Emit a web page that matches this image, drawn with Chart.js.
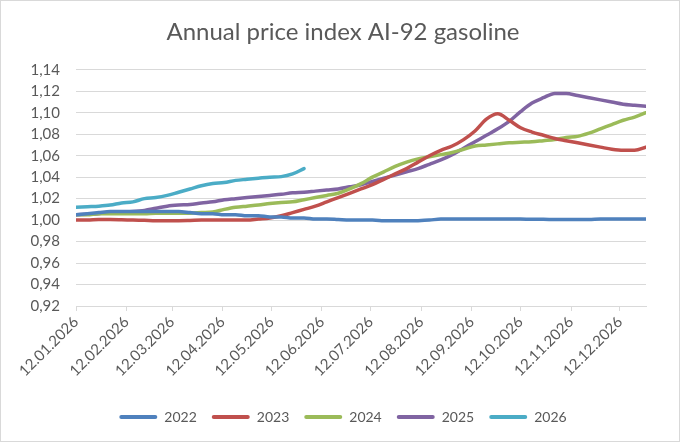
<!DOCTYPE html>
<html>
<head>
<meta charset="utf-8">
<script src="https://cdn.jsdelivr.net/npm/chart.js@4/dist/chart.umd.min.js"></script>
<style>
  html, body { margin: 0; padding: 0; background: #fff; }
  #wrap { width: 680px; height: 442px; box-sizing: border-box; border: 1px solid #d9d9d9; }
</style>
</head>
<body>
<div id="wrap"><canvas id="chart" width="678" height="440"></canvas></div>
<script>
// days since 12.01.2026, one point per week
const days = [0, 7, 14, 21, 28, 35, 42, 49, 56, 63, 70, 77, 84, 91, 98, 105, 112, 119, 126, 133,
  140, 147, 154, 161, 168, 175, 182, 189, 196, 203, 210, 217, 224, 231, 238, 245, 252, 259, 266, 273,
  280, 287, 294, 301, 308, 315, 322, 329, 336, 343, 350];

const tickDays = [0, 31, 59, 90, 120, 151, 181, 212, 243, 273, 304, 334];
const tickLabels = ['12.01.2026', '12.02.2026', '12.03.2026', '12.04.2026', '12.05.2026', '12.06.2026',
  '12.07.2026', '12.08.2026', '12.09.2026', '12.10.2026', '12.11.2026', '12.12.2026'];

const years = ['2022', '2023', '2024', '2025', '2026'];
const colors = ['#4f81bd', '#c0504d', '#9bbb59', '#8064a2', '#4bacc6'];

const y2022 = [1.005, 1.006, 1.007, 1.008, 1.008, 1.008, 1.008, 1.008, 1.008, 1.008, 1.007, 1.006, 1.006,
  1.005, 1.005, 1.004, 1.004, 1.003, 1.003, 1.002, 1.002, 1.001, 1.001, 1.0005, 1.000, 1.000, 1.000,
  0.9995, 0.9993, 0.9993, 0.9995, 1.000, 1.001, 1.001, 1.001, 1.001, 1.001, 1.001, 1.001, 1.001,
  1.0008, 1.0008, 1.0005, 1.0005, 1.0005, 1.0005, 1.001, 1.001, 1.001, 1.001, 1.001];
const y2023 = [1.000, 1.000, 1.0005, 1.0005, 1.0003, 1.000, 0.9998, 0.9995, 0.9995, 0.9995, 0.9997, 1.000,
  1.000, 1.000, 1.000, 1.000, 1.001, 1.002, 1.004, 1.007, 1.010, 1.013, 1.017, 1.021, 1.025, 1.029,
  1.033, 1.038, 1.043, 1.048, 1.054, 1.060, 1.065, 1.069, 1.075, 1.083, 1.094, 1.099, 1.093, 1.086,
  1.082, 1.079, 1.076, 1.074, 1.072, 1.070, 1.068, 1.066, 1.065, 1.065, 1.068];
const y2024 = [1.005, 1.005, 1.006, 1.006, 1.006, 1.006, 1.006, 1.0065, 1.0065, 1.0065, 1.0065, 1.007,
  1.0075, 1.010, 1.012, 1.013, 1.014, 1.0155, 1.0165, 1.017, 1.019, 1.021, 1.023, 1.025, 1.029, 1.034,
  1.040, 1.045, 1.050, 1.054, 1.057, 1.059, 1.061, 1.063, 1.066, 1.069, 1.070, 1.071, 1.072, 1.0725,
  1.073, 1.074, 1.075, 1.077, 1.078, 1.081, 1.085, 1.089, 1.093, 1.096, 1.100];
const y2025 = [1.005, 1.0055, 1.006, 1.007, 1.0075, 1.008, 1.009, 1.011, 1.013, 1.014, 1.0145, 1.016,
  1.017, 1.019, 1.020, 1.021, 1.022, 1.023, 1.024, 1.0255, 1.026, 1.027, 1.028, 1.029, 1.031, 1.033,
  1.036, 1.039, 1.042, 1.045, 1.048, 1.052, 1.056, 1.061, 1.067, 1.073, 1.079, 1.085, 1.092, 1.101,
  1.109, 1.114, 1.118, 1.118, 1.116, 1.114, 1.112, 1.110, 1.108, 1.107, 1.106];
const y2026 = [1.012, 1.0125, 1.013, 1.014, 1.016, 1.017, 1.020, 1.021, 1.023, 1.026, 1.029, 1.032,
  1.034, 1.035, 1.037, 1.038, 1.039, 1.040, 1.0405, 1.043, 1.048];

const series = [y2022, y2023, y2024, y2025, y2026];
const textColor = '#595959';
const gridColor = '#d9d9d9';
const font = 'Lato, "Open Sans", sans-serif';

const datasets = series.map((vals, i) => ({
  label: years[i],
  data: vals.map((v, j) => ({ x: days[j], y: v })),
  borderColor: colors[i],
  backgroundColor: colors[i],
  borderWidth: 3.5,
  pointRadius: 0,
  cubicInterpolationMode: 'monotone',
  borderCapStyle: 'round',
  borderJoinStyle: 'round'
}));

new Chart(document.getElementById('chart'), {
  type: 'line',
  data: { datasets: datasets },
  options: {
    responsive: false,
    animation: false,
    layout: { padding: { left: 6, right: 0, top: 0, bottom: 7 } },
    plugins: {
      title: {
        display: true,
        text: 'Annual price index AI-92 gasoline',
        color: textColor,
        font: { family: font, size: 24, weight: 'normal' },
        padding: { top: 17, bottom: 23 }
      },
      legend: {
        position: 'bottom',
        labels: {
          color: textColor,
          font: { family: font, size: 14 },
          boxWidth: 38,
          boxHeight: 4,
          padding: 15,
          generateLabels: chart => Chart.defaults.plugins.legend.labels.generateLabels(chart)
            .map(item => Object.assign(item, { lineWidth: 0, borderRadius: 2 }))
        }
      },
      tooltip: { enabled: false }
    },
    scales: {
      x: {
        type: 'linear',
        min: 0,
        max: 350,
        afterBuildTicks: scale => { scale.ticks = tickDays.map(v => ({ value: v })); },
        afterFit: scale => { scale.height = 89; },
        ticks: {
          color: textColor,
          font: { family: font, size: 15 },
          minRotation: 45,
          maxRotation: 45,
          padding: 2,
          autoSkip: false,
          callback: (value, index) => tickLabels[index]
        },
        grid: { drawOnChartArea: false, drawTicks: true, tickLength: 5, color: gridColor },
        border: { color: gridColor }
      },
      y: {
        min: 0.92,
        max: 1.14,
        afterFit: scale => { scale.width = 69; },
        ticks: {
          stepSize: 0.02,
          color: textColor,
          font: { family: font, size: 15 },
          padding: 16,
          callback: value => value.toFixed(2).replace('.', ',')
        },
        grid: { color: gridColor, drawTicks: false },
        border: { display: false }
      },
      // empty right-hand axis: only keeps space so the legend and title stay centred
      yRight: {
        position: 'right',
        min: 0.92,
        max: 1.14,
        afterFit: scale => { scale.width = 33; },
        ticks: { display: false },
        grid: { display: false },
        border: { display: false }
      }
    }
  }
});
</script>
</body>
</html>
